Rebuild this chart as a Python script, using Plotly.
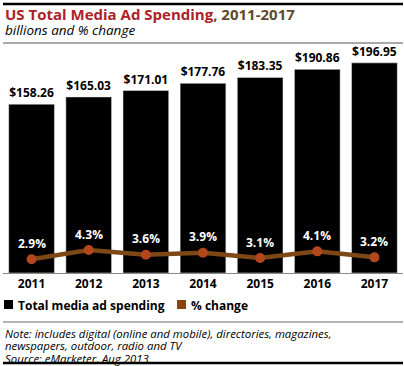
import plotly.graph_objects as go

years = ["2011", "2012", "2013", "2014", "2015", "2016", "2017"]
spending = [158.26, 165.03, 171.01, 177.76, 183.35, 190.86, 196.95]
pct_change = [2.9, 4.3, 3.6, 3.9, 3.1, 4.1, 3.2]

FONT = "Open Sans"
LINE_BROWN = "#7d4716"
MARKER = "#b4461c"

fig = go.Figure()
fig.add_trace(go.Bar(
    x=years, y=spending, marker_color="#000000",
    text=["$%.2f" % v for v in spending], textposition="outside",
    textfont=dict(family=FONT, size=12, color="#000000", weight="bold"),
    cliponaxis=False, name="Total media ad spending", showlegend=False,
    hoverinfo="skip",
))
fig.add_trace(go.Scatter(
    x=years, y=pct_change, yaxis="y2", mode="lines+markers",
    line=dict(color=LINE_BROWN, width=4.5),
    marker=dict(color=MARKER, size=10),
    name="% change", showlegend=False, cliponaxis=False,
    hoverinfo="skip",
))

ann = []
for i, v in enumerate(pct_change):
    ann.append(dict(x=i, y=v, xref="x", yref="y2", yshift=16, showarrow=False,
                    text="<b>%.1f%%</b>" % v,
                    font=dict(family=FONT, size=12, color="#ffffff")))


def yp(pix):
    return 1 + (45 - pix) / 228.0


def xp(pix):
    return (pix - 3) / 400.0


def top_text(text, ypix, size, italic=False, bold=False, color="#000", xpix=3):
    t = text
    if bold:
        t = "<b>%s</b>" % t
    if italic:
        t = "<i>%s</i>" % t
    return dict(x=xp(xpix), y=yp(ypix), xref="paper", yref="paper",
                xanchor="left", yanchor="middle", showarrow=False, text=t,
                font=dict(family=FONT, size=size, color=color))


ann.append(top_text("<span style='color:#ad2227'>US Total Media Ad Spending</span>"
                    "<span style='color:#5e4b2c'>, 2011-2017</span>", 14, 15, bold=True))
ann.append(top_text("billions and % change", 30, 13.5, italic=True))
ann.append(top_text("Total media ad spending", 305, 12, bold=True, xpix=16))
ann.append(top_text("% change", 305, 12, bold=True, xpix=189))
ann.append(top_text("Note: includes digital (online and mobile), directories, magazines,", 333, 11.4, italic=True))
ann.append(top_text("newspapers, outdoor, radio and TV", 345.5, 11.4, italic=True))
ann.append(top_text("Source: eMarketer, Aug 2013", 358, 11.4, italic=True))

shapes = [
    dict(type="line", xref="paper", yref="paper", x0=xp(3), x1=xp(403), y0=yp(4), y1=yp(4),
         line=dict(color="#000", width=2.5)),
    dict(type="line", xref="paper", yref="paper", x0=xp(3), x1=xp(403), y0=yp(43), y1=yp(43),
         line=dict(color="#555", width=1)),
    dict(type="rect", xref="paper", yref="paper", x0=xp(4), x1=xp(13), y0=yp(300), y1=yp(309),
         fillcolor="#000", line=dict(width=0)),
    dict(type="rect", xref="paper", yref="paper", x0=xp(177), x1=xp(186), y0=yp(300), y1=yp(309),
         fillcolor="#8b4513", line=dict(width=0)),
    dict(type="line", xref="paper", yref="paper", x0=xp(3), x1=xp(403), y0=yp(322), y1=yp(322),
         line=dict(color="#666", width=1)),
    dict(type="line", xref="paper", yref="paper", x0=xp(3), x1=xp(403), y0=yp(363), y1=yp(363),
         line=dict(color="#000", width=2.5)),
]

fig.update_layout(
    width=404, height=366,
    margin=dict(l=3, r=1, t=45, b=93),
    paper_bgcolor="#ffffff", plot_bgcolor="#ffffff",
    bargap=0.2,
    showlegend=False,
    xaxis=dict(type="category", range=[-0.5, 6.5], showline=True, linecolor="#888", linewidth=1,
               ticks="", showgrid=False,
               tickfont=dict(family=FONT, size=12, color="#000", weight="bold"),
               fixedrange=True),
    yaxis=dict(range=[0, 213.7], visible=False, showgrid=False, fixedrange=True),
    yaxis2=dict(range=[0.84, 35.2], overlaying="y", visible=False, showgrid=False, fixedrange=True),
    annotations=ann,
    shapes=shapes,
)

fig.write_html("out.html", config={"displayModeBar": False},
               post_script="document.body.style.margin='0';")
